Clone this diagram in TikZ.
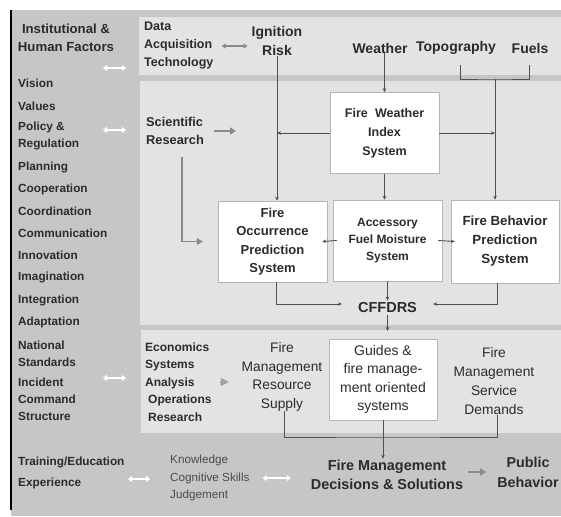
\documentclass[tikz,border=0pt]{standalone}
\usepackage{fontspec}
\setmainfont{Liberation Sans}
\usetikzlibrary{arrows.meta}
\definecolor{hgrau}{HTML}{C6C6C6}
\definecolor{feld}{HTML}{E3E3E3}
\definecolor{tgrau}{HTML}{2B2B2B}
\definecolor{lgrau}{HTML}{505050}
\definecolor{pgrau}{HTML}{8A8A8A}
\definecolor{rahmen}{HTML}{B5B5B5}
\newcommand{\gr}[2]{\fontsize{#1}{#2}\selectfont}
\tikzset{
  links/.style={anchor=west, inner sep=0pt, text=tgrau, align=left, font=\bfseries\gr{11.8}{17}},
  txt/.style={inner sep=0pt, text=tgrau, align=center},
  kasten/.style={draw=rahmen, fill=white, line width=0.5pt, text=tgrau, align=center, inner sep=0pt, minimum width=109pt, minimum height=81pt},
  linie/.style={draw=lgrau, line width=0.9pt},
  pfeil/.style={linie, -{Stealth[length=4pt,width=3.5pt]}},
  grauPfeil/.style={draw=pgrau, line width=1.6pt, -{Triangle[length=6pt,width=7pt]}},
  kopfPfeil/.style={draw=pgrau!80, line width=0.4pt, -{Triangle[length=8pt,width=8pt]}},
  weissPfeil/.style={draw=white, line width=1.6pt, {Triangle[length=4pt,width=6pt]}-{Triangle[length=4pt,width=6pt]}},
  dunkelPfeil/.style={draw=pgrau, line width=1.1pt, {Triangle[length=4pt,width=5pt]}-{Triangle[length=4pt,width=5pt]}}
}
\begin{document}
\begin{tikzpicture}[x=1pt,y=-1pt]
	\useasboundingbox (0,0) rectangle (561,516);
	\fill[hgrau] (11,10) rectangle (561,516);%Hintergrund
	\draw[black, line width=1.2pt] (11,10) -- (11,510);%linker Rand
	\fill[feld] (139,17) rectangle (561,75);%oberes Feld
	\fill[feld] (140,81) rectangle (561,325);%mittleres Feld
	\fill[feld] (141,330) rectangle (561,433);%unteres Feld
	%linke Spalte
	\node[txt, font=\bfseries\gr{13.2}{17.5}] (inst) at (66,38) {Institutional \&\\Human Factors};
	\node[links] (vision) at (18,83) {Vision};
	\node[links] (values) at (18,106) {Values};
	\node[links] (policy) at (18,136) {Policy \&\\Regulation};
	\node[links] (planning) at (18,167) {Planning};
	\node[links] (coop) at (18,189) {Cooperation};
	\node[links] (coord) at (18,211) {Coordination};
	\node[links] (comm) at (18,233) {Communication};
	\node[links] (innov) at (18,255) {Innovation};
	\node[links] (imag) at (18,277) {Imagination};
	\node[links] (integ) at (18,300) {Integration};
	\node[links] (adapt) at (18,322) {Adaptation};
	\node[links] (national) at (18,354) {National\\Standards};
	\node[links] (incident) at (18,399) {Incident\\Command\\Structure};
	\node[links] (training) at (18,462) {Training/Education};
	\node[links] (experience) at (18,483) {Experience};
	\coordinate (instL) at (103,68); \coordinate (instR) at (126,68);
	\coordinate (polL) at (103,130); \coordinate (polR) at (126,130);
	\coordinate (incL) at (103,378); \coordinate (incR) at (126,378);
	\coordinate (expL) at (128,479); \coordinate (expR) at (150,479);
	\draw[weissPfeil] (instL) -- (instR);%weisser Pfeil oben
	\draw[weissPfeil] (polL) -- (polR);%weisser Pfeil Policy
	\draw[weissPfeil] (incL) -- (incR);%weisser Pfeil Incident
	\draw[weissPfeil] (expL) -- (expR);%weisser Pfeil Experience
	%oberes Feld
	\node[txt, anchor=west, align=left, font=\bfseries\gr{12.5}{18}] (dat) at (144,46) {Data\\Acquisition\\Technology};
	\node[txt, font=\bfseries\gr{14}{18.5}] (ign) at (277,41) {Ignition\\Risk};
	\node[txt, font=\bfseries\gr{14}{18}] (weather) at (380,48) {Weather};
	\node[txt, font=\bfseries\gr{14}{18}] (topo) at (456,48) {Topography};
	\node[txt, font=\bfseries\gr{14}{18}] (fuels) at (530,48) {Fuels};
	\draw[dunkelPfeil, shorten <=8pt, shorten >=4pt] (dat.east) -- (dat.east -| ign.west);%Data <-> Ignition
	\coordinate (topoFuss) at (460,65);
	\coordinate (fuelsFuss) at (529,65);
	\coordinate (kl) at (495,79);
	\draw[linie] (topoFuss) |- (kl) -| (fuelsFuss);%Klammer Topography/Fuels
	%mittleres Feld
	\node[txt, anchor=west, align=left, font=\bfseries\gr{12.8}{18}] (sci) at (146,131) {Scientific\\Research};
	\node[kasten, font=\bfseries\gr{12.5}{19}] (fwi) at (384.5,133) {Fire\hspace{0.3em} Weather\\Index\\System};
	\node[kasten, font=\bfseries\gr{13}{18.3}] (fop) at (272.5,241.5) {Fire\\Occurrence\\Prediction\\System};
	\node[kasten, font=\bfseries\gr{12}{17}] (afm) at (387.5,240.5) {Accessory\\Fuel Moisture\\System};
	\node[kasten, font=\bfseries\gr{13.3}{19}, minimum width=108pt, minimum height=83pt] (fbp) at (505,241.5) {Fire Behavior\\Prediction\\System};
	\node[txt, inner xsep=16pt, inner ysep=2pt, font=\bfseries\gr{14.5}{18}] (cffdrs) at (387.5,308) {CFFDRS};
	\draw[pfeil] (fwi.north |- weather.south) -- (fwi.north);%Weather -> FWI
	\draw[pfeil] (ign.south) -- (ign.south |- fop.north);%Ignition -> Occurrence
	\draw[pfeil] (fwi.west) -- (fwi.west -| ign.south);%FWI nach links
	\draw[pfeil] (fwi.east) -- (fwi.east -| kl);%FWI nach rechts
	\draw[pfeil] (kl) -- (kl |- fbp.north);%Klammer -> FBP
	\draw[pfeil] (fwi.south) -- (fwi.south |- afm.north);%FWI -> Accessory
	\draw[pfeil] ([xshift=4pt]afm.west) -- ([xshift=-5pt]fop.east);%Accessory -> Occurrence
	\draw[pfeil] ([xshift=-4pt]afm.east) -- ([xshift=4pt]fbp.west);%Accessory -> FBP
	\draw[grauPfeil] ([xshift=10pt]sci.east) -- ([xshift=32pt]sci.east);%Scientific Research
	\draw[grauPfeil, shorten >=15pt] ([xshift=7pt,yshift=-12pt]sci.south) |- (fop.west);%Research -> Occurrence
	\draw[pfeil] ([xshift=4pt]fop.south) |- ([yshift=4pt]cffdrs.west);%Occurrence -> CFFDRS
	\draw[pfeil] (afm.south) -- (afm.south |- cffdrs.north);%Accessory -> CFFDRS
	\draw[pfeil] ([xshift=-8pt]fbp.south) |- ([yshift=4pt]cffdrs.east);%FBP -> CFFDRS
	\coordinate (untenFeld) at (385,331);
	\draw[pfeil] (cffdrs.south) -- (cffdrs.south |- untenFeld);%CFFDRS nach unten
	%unteres Feld
	\node[txt, anchor=west, align=left, font=\bfseries\gr{12}{17.5}] (econ) at (145,382) {Economics\\Systems\\Analysis\\\hspace{3pt}Operations\\\hspace{3pt}Research};
	\draw[kopfPfeil] ([xshift=8pt]econ.east) -- ([xshift=17pt]econ.east);%Dreieck
	\node[txt, font=\gr{13.8}{18.5}] (fmrs) at (282,377) {Fire\\Management\\Resource\\Supply};
	\node[kasten, font=\gr{14}{18.5}, minimum width=108pt] (guides) at (383,379.5) {Guides \&\\fire manage-\\ment oriented\\systems};
	\node[txt, font=\gr{13.8}{19}] (fmsd) at (494,381.5) {Fire\\Management\\Service\\Demands};
	\coordinate (klU) at (385,437);
	\draw[linie] ([xshift=2pt]fmrs.south) |- (klU) -| ([xshift=3pt]fmsd.south);%Klammer unten
	%unterer Bereich
	\node[txt, inner sep=1pt, font=\bfseries\gr{14.4}{19.5}] (fmd) at (387,475) {Fire Management\\Decisions \& Solutions};
	\node[txt, font=\bfseries\gr{14.3}{20}] (public) at (528,472) {Public\\Behavior};
	\node[txt, anchor=west, align=left, text=tgrau!85, font=\gr{11.7}{17.5}] (wissen) at (170,478) {Knowledge\\Cognitive Skills\\Judgement};
	\draw[pfeil] (guides.south) -- (guides.south |- fmd.north);%Guides -> Decisions
	\draw[weissPfeil, shorten <=13pt, shorten >=19pt] (wissen.east) -- (wissen.east -| fmd.west);%Knowledge <-> Decisions
	\draw[grauPfeil, shorten <=4pt, shorten >=11pt] (public.west -| fmd.east) -- (public.west);%Decisions -> Public
\end{tikzpicture}
\end{document}
